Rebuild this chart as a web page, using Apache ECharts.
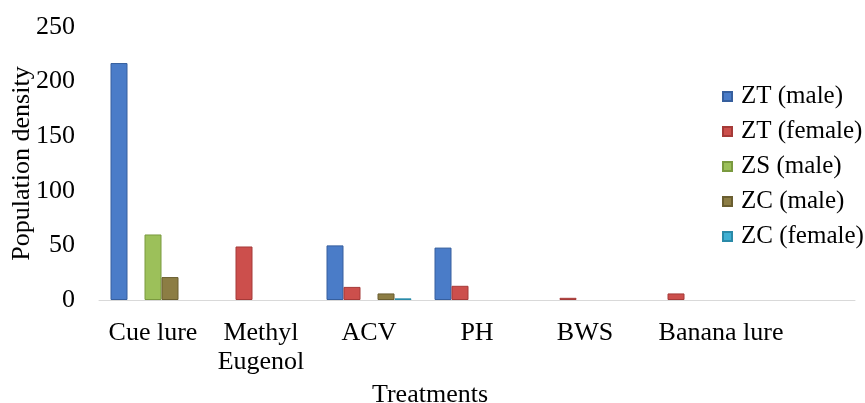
<!DOCTYPE html>
<html>
<head>
<meta charset="utf-8">
<script src="https://cdn.jsdelivr.net/npm/echarts@6/dist/echarts.min.js"></script>
<style>html,body{margin:0;padding:0;background:#fff;}#c{width:865px;height:403px;}</style>
</head>
<body>
<div id="c"></div>
<script>
var categories = ['Cue lure', 'Methyl\nEugenol', 'ACV', 'PH', 'BWS', 'Banana lure', ''];
var seriesNames = ['ZT (male)', 'ZT (female)', 'ZS (male)', 'ZC (male)', 'ZC (female)'];
var ztMale   = [217, null, 50, 48, null, null, null];
var ztFemale = [null, 49, 12, 13, 2, 6, null];
var zsMale   = [60, null, null, null, null, null, null];
var zcMale   = [21, null, 6, null, null, null, null];
var zcFemale = [null, null, 1.5, null, null, null, null];
var yTicks = [0, 50, 100, 150, 200, 250];

var colors = ['#4a7cc8', '#cc4f4c', '#9cc05a', '#8c7d44', '#3fb0d3'];
var borders = ['#365f9e', '#a53a38', '#7a9a3f', '#6a5e30', '#2a8aa8'];
var values = [ztMale, ztFemale, zsMale, zcMale, zcFemale];
var font = '"Liberation Serif", "Times New Roman", serif';
var FS = 26;

var series = seriesNames.map(function (n, i) {
  return {
    name: n, type: 'bar', data: values[i], barWidth: 17, barGap: '0%',
    itemStyle: { color: colors[i], borderColor: borders[i], borderWidth: 1 }
  };
});

var chart = echarts.init(document.getElementById('c'), null, { renderer: 'canvas' });
chart.setOption({
  animation: false,
  color: colors,
  textStyle: { fontFamily: font },
  grid: { left: 99, right: 10, top: 27, bottom: 103, containLabel: false, outerBoundsMode: 'none' },
  legend: {
    orient: 'vertical', left: 717, top: 79, itemWidth: 9, itemHeight: 9, itemGap: 10,
    icon: 'rect',
    textStyle: { fontFamily: font, fontSize: 25, color: '#000', padding: [0, 0, 0, 4] },
    data: seriesNames
  },
  xAxis: {
    type: 'category', data: categories,
    name: 'Treatments', nameLocation: 'middle', nameGap: 78,
    nameTextStyle: { fontFamily: font, fontSize: FS, color: '#000', padding: [0, 94, 0, 0] },
    axisLine: { lineStyle: { color: '#d9d9d9', width: 1 } },
    axisTick: { show: false },
    axisLabel: {
      interval: 0, margin: 19, fontFamily: font, fontSize: FS, color: '#000', lineHeight: 29,
      formatter: function (v) { return v === 'Banana lure' ? '{b|' + v + '}' : v; },
      rich: { b: { fontFamily: font, fontSize: FS, color: '#000', padding: [0, 0, 0, 56] } }
    }
  },
  yAxis: {
    type: 'value', min: 0, max: 250, interval: 50,
    name: 'Population density', nameLocation: 'middle', nameGap: 64, nameMoveOverlap: false,
    nameTextStyle: { fontFamily: font, fontSize: FS, color: '#000' },
    axisLine: { show: false }, axisTick: { show: false }, splitLine: { show: false },
    axisLabel: {
      margin: 24, fontFamily: font, fontSize: FS, color: '#000',
      formatter: function (v) { return yTicks.indexOf(v) >= 0 ? String(v) : ''; }
    }
  },
  series: series
});
</script>
</body>
</html>
